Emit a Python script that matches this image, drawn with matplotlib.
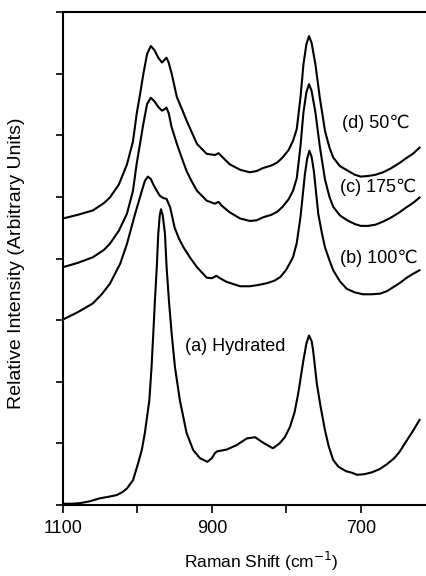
import matplotlib
matplotlib.use("Agg")
import matplotlib.pyplot as plt

plt.rcParams['font.family'] = ['Liberation Sans', 'DejaVu Sans']

# spectra: (wavenumber, intensity)
shift_a = [1100, 1088, 1077, 1064, 1050, 1040, 1028, 1020, 1014, 1006, 999, 994, 990, 984, 981,
           978.7, 976.5, 974, 972, 970, 968.3, 966, 963, 960.8, 957.7, 954, 949.6, 943, 934, 925,
           916, 906, 900, 896, 893, 880, 867, 853, 842, 831, 818, 809, 802, 795, 789, 784, 777,
           773, 769.5, 766, 764, 759, 754, 748, 743, 737, 730, 720, 711, 705, 695, 685, 675, 665,
           661, 655, 648, 638, 630, 621]
hydrated = [0.02, 0.02, 0.03, 0.06, 0.11, 0.13, 0.16, 0.21, 0.27, 0.40, 0.68, 0.90, 1.17, 1.70, 2.24,
            2.78, 3.32, 3.86, 4.40, 4.70, 4.80, 4.70, 4.40, 3.86, 3.32, 2.78, 2.24, 1.70, 1.17, 0.89,
            0.76, 0.70, 0.76, 0.84, 0.87, 0.90, 0.97, 1.08, 1.10, 1.01, 0.92, 1.00, 1.10, 1.27, 1.50, 1.81, 2.35,
            2.62, 2.75, 2.66, 2.51, 1.97, 1.60, 1.21, 0.95, 0.73, 0.62, 0.55, 0.52, 0.49, 0.50, 0.53, 0.58, 0.66,
            0.70, 0.76, 0.86, 1.05, 1.20, 1.38]

shift_b = [1100, 1080, 1060, 1048, 1037, 1023, 1014, 1003, 994, 990, 986, 982, 979, 974, 970, 965,
           961, 956, 950, 944, 938, 929, 920, 907, 900, 894, 889, 880, 862, 849, 838, 826, 816,
           808, 800, 791, 786, 781, 775, 772, 769, 766, 763, 757, 752, 748, 742, 737, 728, 719,
           708, 697, 685, 674, 665, 657, 648, 638, 630, 621]
t100 = [3.01, 3.13, 3.27, 3.42, 3.59, 3.92, 4.24, 4.73, 5.10, 5.26, 5.33, 5.29, 5.21, 5.10, 5.02, 4.98,
        4.97, 4.83, 4.50, 4.32, 4.18, 4.01, 3.86, 3.69, 3.68, 3.72, 3.68, 3.62, 3.55, 3.55, 3.57, 3.60, 3.64,
        3.70, 3.82, 4.02, 4.25, 4.67, 5.37, 5.62, 5.75, 5.65, 5.42, 4.72, 4.40, 4.18, 3.97, 3.81, 3.63, 3.51,
        3.45, 3.42, 3.42, 3.43, 3.47, 3.53, 3.60, 3.69, 3.75, 3.81]

shift_cd = [1100, 1080, 1060, 1045, 1037, 1025, 1014, 1006, 1001, 996, 992, 987, 982, 977, 972, 967,
            964, 961, 958, 954, 947, 940, 934, 927, 920, 907, 896, 891, 887, 876, 862, 849, 840,
            831, 820, 812, 805, 797, 791, 786, 781, 777, 773, 769.5, 766, 761, 755, 748, 742, 737,
            728, 718, 708, 700, 690, 680, 670, 660, 648, 640, 630, 621]
t175 = [3.86, 3.93, 4.02, 4.14, 4.24, 4.45, 4.73, 5.10, 5.54, 5.90, 6.19, 6.51, 6.61, 6.55, 6.46, 6.40,
        6.42, 6.45, 6.36, 6.13, 5.86, 5.62, 5.42, 5.25, 5.10, 4.94, 4.89, 4.92, 4.86, 4.75, 4.65, 4.61, 4.62,
        4.67, 4.71, 4.76, 4.84, 4.96, 5.10, 5.30, 5.82, 6.37, 6.70, 6.83, 6.72, 6.38, 5.82, 5.28, 5.00, 4.84,
        4.70, 4.62, 4.56, 4.53, 4.53, 4.55, 4.60, 4.66, 4.75, 4.82, 4.90, 4.99]
t50 = [4.65, 4.71, 4.78, 4.90, 4.99, 5.20, 5.53, 5.90, 6.35, 6.70, 7.00, 7.32, 7.45, 7.38, 7.26, 7.18,
       7.22, 7.26, 7.18, 7.00, 6.62, 6.42, 6.24, 6.05, 5.86, 5.70, 5.68, 5.71, 5.66, 5.53, 5.44, 5.40, 5.42,
       5.47, 5.51, 5.56, 5.64, 5.76, 5.91, 6.10, 6.61, 7.15, 7.48, 7.61, 7.50, 7.16, 6.61, 6.07, 5.80, 5.64,
       5.50, 5.43, 5.36, 5.33, 5.34, 5.36, 5.40, 5.46, 5.55, 5.62, 5.70, 5.80]

labels = ["(a) Hydrated", "(b) 100\u2103", "(c) 175\u2103", "(d) 50\u2103"]
label_x = [936, 728, 728, 725]
label_y = [2.58, 4.01, 5.16, 6.20]

fig = plt.figure(figsize=(4.27, 5.76), dpi=100)
ax = fig.add_axes([0.1475, 0.1233, 0.8525, 0.8557])

ax.plot(shift_a, hydrated, color="black", lw=1.5)
ax.plot(shift_b, t100, color="black", lw=1.5)
ax.plot(shift_cd, t175, color="black", lw=1.5)
ax.plot(shift_cd, t50, color="black", lw=1.5)

for text, x, y in zip(labels, label_x, label_y):
    ax.text(x, y, text, fontsize=13, ha="left", va="center")

ax.set_xlim(1100, 611)
ax.set_ylim(0, 8)

ax.set_xticks([1100, 900, 700])
ax.set_xticks([1000, 800], minor=True)
ax.set_yticks(range(9))
ax.set_yticklabels([])
ax.tick_params(axis="x", which="both", direction="out", length=6, width=1.2, labelsize=13, pad=5)
ax.tick_params(axis="y", direction="out", length=5, width=1.2)

ax.spines["right"].set_visible(False)
for side in ["left", "bottom", "top"]:
    ax.spines[side].set_linewidth(1.5)

ax.set_xlabel("Raman Shift (cm$^{-1}$)", fontsize=12.5)
ax.xaxis.set_label_coords(0.544, -0.092)
ax.set_ylabel("Relative Intensity (Arbitrary Units)", fontsize=14)
ax.yaxis.set_label_coords(-0.105, 0.49)

fig.savefig("out.png", dpi=100)
